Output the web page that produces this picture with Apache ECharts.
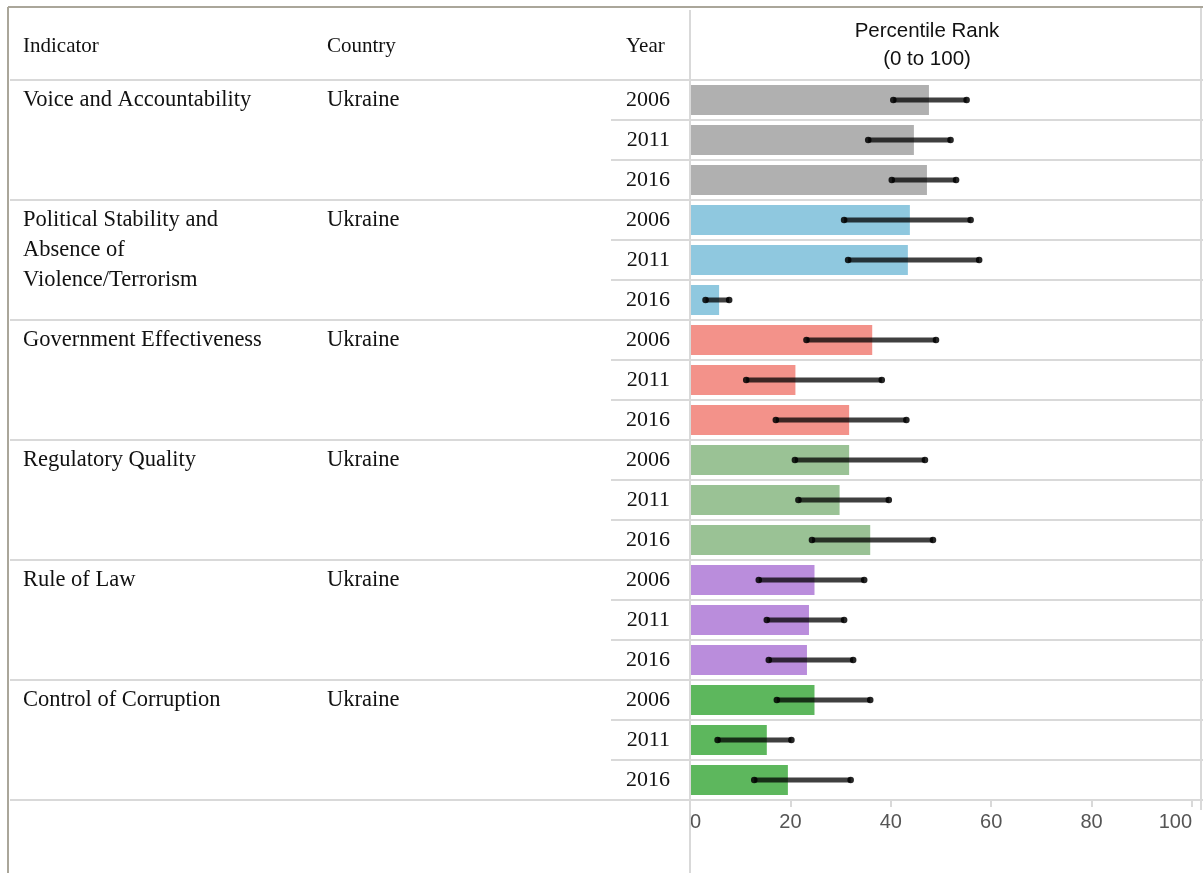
<!DOCTYPE html>
<html>
<head>
<meta charset="utf-8">
<script src="https://cdn.jsdelivr.net/npm/echarts@6/dist/echarts.min.js"></script>
<style>
html,body{margin:0;padding:0;background:#fff;}
#chart{width:1203px;height:873px;}
</style>
</head>
<body>
<div id="chart"></div>
<script>
// ---- data ----
const indicators = [
  'Voice and Accountability',
  'Political Stability and\nAbsence of\nViolence/Terrorism',
  'Government Effectiveness',
  'Regulatory Quality',
  'Rule of Law',
  'Control of Corruption'
];
const country = 'Ukraine';
const years = ['2006', '2011', '2016'];
const pctRank = [
  [47.6, 44.6, 47.2],
  [43.8, 43.4, 5.8],
  [36.3, 21.0, 31.7],
  [31.7, 29.8, 35.9],
  [24.8, 23.7, 23.3],
  [24.8, 15.3, 19.5]
];
const lowerBound = [
  [40.5, 35.5, 40.2],
  [30.7, 31.5, 3.1],
  [23.2, 11.2, 17.1],
  [20.9, 21.6, 24.3],
  [13.7, 15.3, 15.7],
  [17.3, 5.5, 12.8]
];
const upperBound = [
  [55.1, 51.9, 53.0],
  [55.9, 57.6, 7.8],
  [49.0, 38.2, 43.1],
  [46.8, 39.6, 48.4],
  [34.7, 30.7, 32.5],
  [35.9, 20.2, 32.0]
];
const xTicks = [0, 20, 40, 60, 80, 100];
const axisTitle = 'Percentile Rank\n(0 to 100)';
const headers = ['Indicator', 'Country', 'Year'];

// ---- styles ----
const palette = ['#b0b0b0', '#8fc8df', '#f3928a', '#9ac295', '#ba8ddc', '#5db75d'];
const gridColor = '#d9d9d9';
const serif = '"Liberation Serif", "Times New Roman", serif';
const sans = '"Liberation Sans", Arial, sans-serif';

// ---- build rows ----
const rowKeys = [], rowYears = [], barData = [], errData = [], tableData = [];
indicators.forEach((ind, g) => {
  years.forEach((y, k) => {
    const idx = rowKeys.length;
    rowKeys.push(ind + '|' + y);
    rowYears.push(y);
    barData.push({ value: pctRank[g][k], itemStyle: { color: palette[g] } });
    errData.push([lowerBound[g][k], upperBound[g][k], idx]);
    tableData.push([0, idx, g, k]);
  });
});

const chart = echarts.init(document.getElementById('chart'), null, { renderer: 'canvas' });

const option = {
  animation: false,
  backgroundColor: '#fff',
  grid: { left: 690, top: 80, width: 502, height: 720, containLabel: false },
  xAxis: {
    type: 'value', min: 0, max: 100, interval: 20,
    axisLine: { show: false },
    axisTick: { show: true, length: 7, lineStyle: { color: gridColor, width: 2 } },
    splitLine: { show: false },
    axisLabel: {
      color: '#555', fontSize: 20, fontFamily: sans, margin: 12,
      alignMinLabel: 'left', alignMaxLabel: 'right',
      formatter: v => xTicks.includes(v) ? String(v) : ''
    }
  },
  yAxis: {
    type: 'category', data: rowKeys, inverse: true,
    axisLine: { show: false }, axisTick: { show: false }, splitLine: { show: false },
    axisLabel: {
      margin: 20, color: '#111', fontSize: 22, fontFamily: serif,
      formatter: (v, i) => rowYears[i]
    }
  },
  graphic: [
    // outer borders
    { type: 'line', shape: { x1: 8, y1: 7, x2: 1203, y2: 7 }, style: { stroke: '#aaa69a', lineWidth: 2 }, z: 10 },
    { type: 'line', shape: { x1: 8, y1: 7, x2: 8, y2: 873 }, style: { stroke: '#aaa69a', lineWidth: 2 }, z: 10 },
    { type: 'line', shape: { x1: 1201, y1: 8, x2: 1201, y2: 810 }, style: { stroke: gridColor, lineWidth: 2 }, z: 10 },
    { type: 'line', shape: { x1: 690, y1: 10, x2: 690, y2: 873 }, style: { stroke: gridColor, lineWidth: 2 }, z: 10 },
    // headers
    { type: 'text', x: 23, y: 46, style: { text: headers[0], font: '21px ' + serif, fill: '#111', textVerticalAlign: 'middle' } },
    { type: 'text', x: 327, y: 46, style: { text: headers[1], font: '21px ' + serif, fill: '#111', textVerticalAlign: 'middle' } },
    { type: 'text', x: 626, y: 46, style: { text: headers[2], font: '21px ' + serif, fill: '#111', textVerticalAlign: 'middle' } },
    { type: 'text', x: 927, y: 17, style: { text: axisTitle, font: '20.5px ' + sans, fill: '#111', textAlign: 'center', lineHeight: 28 } }
  ],
  series: [
    {
      type: 'bar', data: barData, barWidth: 30, silent: true, z: 2
    },
    {
      type: 'custom', data: errData, z: 5, silent: true,
      encode: { x: [0, 1], y: 2 },
      renderItem: (params, api) => {
        const p1 = api.coord([api.value(0), api.value(2)]);
        const p2 = api.coord([api.value(1), api.value(2)]);
        return {
          type: 'group',
          children: [
            { type: 'line', shape: { x1: p1[0], y1: p1[1], x2: p2[0], y2: p2[1] },
              style: { stroke: 'rgba(0,0,0,0.75)', lineWidth: 5 } },
            { type: 'circle', shape: { cx: p1[0], cy: p1[1], r: 3.3 }, style: { fill: 'rgba(0,0,0,0.85)' } },
            { type: 'circle', shape: { cx: p2[0], cy: p2[1], r: 3.3 }, style: { fill: 'rgba(0,0,0,0.85)' } }
          ]
        };
      }
    },
    {
      type: 'custom', data: tableData, z: 1, silent: true,
      encode: { x: 0, y: 1 },
      renderItem: (params, api) => {
        const idx = api.value(1), g = api.value(2), k = api.value(3);
        const c = api.coord([0, idx]);
        const h = api.size([0, 1])[1];
        const top = c[1] - h / 2, bottom = c[1] + h / 2;
        const children = [];
        const x0 = k === 0 ? 10 : 611;
        children.push({ type: 'line', shape: { x1: x0, y1: top, x2: 1203, y2: top }, style: { stroke: gridColor, lineWidth: 2 } });
        if (idx === rowKeys.length - 1) {
          children.push({ type: 'line', shape: { x1: 10, y1: bottom, x2: 1203, y2: bottom }, style: { stroke: gridColor, lineWidth: 2 } });
        }
        if (k === 0) {
          children.push({ type: 'text', x: 23, y: top + 5, style: { text: indicators[g], font: '22.5px ' + serif, fill: '#111', lineHeight: 30, textVerticalAlign: 'top' } });
          children.push({ type: 'text', x: 327, y: top + 5, style: { text: country, font: '22.5px ' + serif, fill: '#111', lineHeight: 30, textVerticalAlign: 'top' } });
        }
        return { type: 'group', children };
      }
    }
  ]
};
chart.setOption(option);
</script>
</body>
</html>
